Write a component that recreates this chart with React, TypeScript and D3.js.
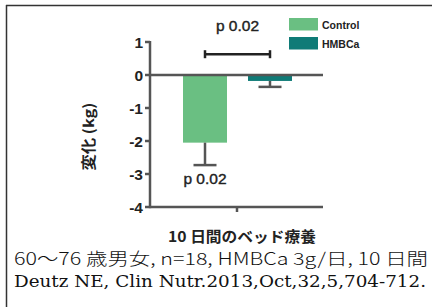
import React from "react";
import * as d3 from "d3";

const categories = ["Control", "HMBCa"];
const means = [-2.05, -0.18];
const errors = [0.68, 0.18];
const colors = ["#6ABF82", "#0F7B77"];
const yTicks = [1, 0, -1, -2, -3, -4];
const pTop = "p 0.02";
const pBar = "p 0.02";
const yLabel = "変化 (kg)";
const xLabel = "10 日間のベッド療養";
const note1 = "60〜76 歳男女, n=18, HMBCa 3g/日, 10 日間";
const note2 = "Deutz NE, Clin Nutr.2013,Oct,32,5,704-712.";

export default function App() {
  const y = d3.scaleLinear().domain([-4, 1]).range([207, 42]);
  const x = d3.scaleBand().domain(categories).range([183, 292]).paddingInner(0.323).paddingOuter(0);
  const axisColor = "#555";
  const sans = "'Liberation Sans', Arial, 'Noto Sans CJK JP', sans-serif";
  const cjk = "'Noto Sans CJK JP', sans-serif";
  const bw = x.bandwidth();
  const cx = (c: string) => (x(c) as number) + bw / 2;
  const bracketY = y(0.63);
  return (
    <svg width={432} height={307} style={{ position: "absolute", left: 0, top: 0, background: "#fff" }}>
      <rect x={0} y={0} width={432} height={307} fill="#fff" />
      {/* frame */}
      <line x1={6} y1={5.5} x2={432} y2={5.5} stroke="#333" strokeWidth={1.5} />
      <line x1={6.5} y1={5} x2={6.5} y2={307} stroke="#333" strokeWidth={1.5} />
      {/* bars */}
      {categories.map((c, i) => (
        <g key={c}>
          <rect x={x(c)} y={y(0)} width={bw} height={y(means[i]) - y(0)} fill={colors[i]} />
          <line x1={cx(c)} x2={cx(c)} y1={y(means[i])} y2={y(means[i] - errors[i])} stroke={axisColor} strokeWidth={2.5} />
          <line x1={cx(c) - 11.5} x2={cx(c) + 11.5} y1={y(means[i] - errors[i])} y2={y(means[i] - errors[i])} stroke={axisColor} strokeWidth={2.5} />
        </g>
      ))}
      {/* zero line */}
      <line x1={150} x2={323} y1={y(0)} y2={y(0)} stroke={axisColor} strokeWidth={2.5} />
      {/* y axis */}
      <line x1={150} x2={150} y1={y(1) - 1} y2={y(-4) + 1.2} stroke={axisColor} strokeWidth={2.5} />
      {yTicks.map((t) => (
        <g key={t}>
          <line x1={145} x2={150} y1={y(t)} y2={y(t)} stroke={axisColor} strokeWidth={2.5} />
          <text x={143} y={y(t)} dy="0.36em" textAnchor="end" fontFamily={sans} fontWeight="bold" fontSize={15.5} fill="#222">
            {t < 0 ? "-" + Math.abs(t) : t}
          </text>
        </g>
      ))}
      {/* x axis */}
      <line x1={150} x2={323} y1={y(-4)} y2={y(-4)} stroke={axisColor} strokeWidth={2.5} />
      <line x1={237} x2={237} y1={y(-4)} y2={y(-4) + 5} stroke={axisColor} strokeWidth={2.5} />
      {/* significance bracket */}
      <line x1={cx(categories[0])} x2={cx(categories[1])} y1={bracketY} y2={bracketY} stroke="#222" strokeWidth={2.5} />
      <line x1={cx(categories[0])} x2={cx(categories[0])} y1={bracketY - 4} y2={bracketY + 4} stroke="#222" strokeWidth={2.5} />
      <line x1={cx(categories[1])} x2={cx(categories[1])} y1={bracketY - 4} y2={bracketY + 4} stroke="#222" strokeWidth={2.5} />
      <text x={(cx(categories[0]) + cx(categories[1])) / 2} y={31} textAnchor="middle" fontFamily={sans} fontSize={15.5} fill="#222" stroke="#222" strokeWidth={0.4}>{pTop}</text>
      <text x={cx(categories[0])} y={184} textAnchor="middle" fontFamily={sans} fontSize={15.5} fill="#222" stroke="#222" strokeWidth={0.4}>{pBar}</text>
      {/* legend */}
      {categories.map((c, i) => (
        <g key={"lg" + c}>
          <rect x={289} y={18 + i * 19} width={29} height={12.5} fill={colors[i]} />
          <text x={322} y={28.5 + i * 19} fontFamily={sans} fontWeight="bold" fontSize={10.5} fill="#222">{c}</text>
        </g>
      ))}
      {/* axis labels */}
      <text transform={`translate(93.5,136.5) rotate(-90)`} textAnchor="middle" fontFamily={cjk} fontWeight="bold" fontSize={14.5} fill="#222" textLength={68} lengthAdjust="spacingAndGlyphs">{yLabel}</text>
      <text x={242} y={242} textAnchor="middle" fontFamily={cjk} fontWeight="bold" fontSize={14.5} fill="#222" textLength={148} lengthAdjust="spacingAndGlyphs">{xLabel}</text>
      {/* notes */}
      <text x={14} y={265} fontFamily={cjk} fontWeight={300} fontSize={17} fill="#111" textLength={414} lengthAdjust="spacingAndGlyphs">{note1}</text>
      <text x={14} y={287} fontFamily="'DejaVu Serif', 'Liberation Serif', serif" fontSize={16} fill="#111" textLength={412} lengthAdjust="spacingAndGlyphs">{note2}</text>
    </svg>
  );
}
